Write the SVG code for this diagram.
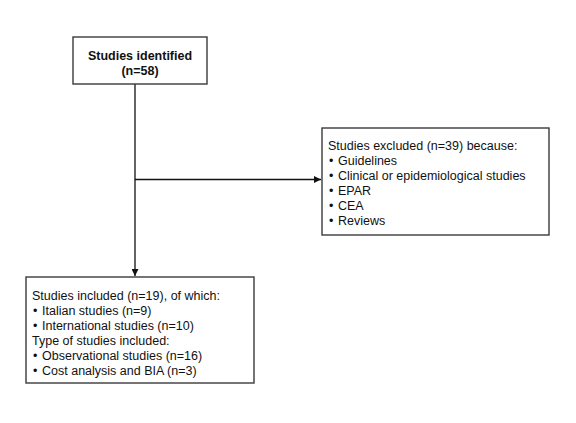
<svg xmlns="http://www.w3.org/2000/svg" width="576" height="423" viewBox="0 0 576 423">
<defs>
<style>
.box{fill:#fff;stroke:#3a3a3a;stroke-width:1.4}
.t{font-family:"Liberation Sans",Arial,sans-serif;font-size:12.5px;fill:#111}
.b{font-weight:bold;text-anchor:middle}
.ln{stroke:#111;stroke-width:1.3;fill:none}
</style>
<marker id="ah" viewBox="0 0 10 10" refX="10" refY="5" markerWidth="7" markerHeight="7" markerUnits="userSpaceOnUse" orient="auto">
<path d="M0,0 L10,5 L0,10 z" fill="#111"/>
</marker>
</defs>
<rect width="576" height="423" fill="#fff"/>
<g id="connectors">
<path class="ln" d="M135,84 V276" marker-end="url(#ah)"/>
<path class="ln" d="M135,179.5 H321" marker-end="url(#ah)"/>
</g>
<g id="identified">
<rect class="box" x="73" y="37" width="134" height="47"/>
<text class="t b" x="140" y="59.5">Studies identified</text>
<text class="t b" x="140" y="74.5">(n=58)</text>
</g>
<g id="excluded">
<rect class="box" x="322" y="128" width="227" height="107"/>
<text class="t" x="328" y="149.5">Studies excluded (n=39) because:</text>
<text class="t" y="164.5"><tspan x="329">•</tspan><tspan x="338">Guidelines</tspan></text>
<text class="t" y="179.5"><tspan x="329">•</tspan><tspan x="338">Clinical or epidemiological studies</tspan></text>
<text class="t" y="194.5"><tspan x="329">•</tspan><tspan x="338">EPAR</tspan></text>
<text class="t" y="209.5"><tspan x="329">•</tspan><tspan x="338">CEA</tspan></text>
<text class="t" y="224.5"><tspan x="329">•</tspan><tspan x="338">Reviews</tspan></text>
</g>
<g id="included">
<rect class="box" x="26" y="277" width="228" height="106"/>
<text class="t" x="32" y="299.5">Studies included (n=19), of which:</text>
<text class="t" y="314.5"><tspan x="33">•</tspan><tspan x="42">Italian studies (n=9)</tspan></text>
<text class="t" y="329.5"><tspan x="33">•</tspan><tspan x="42">International studies (n=10)</tspan></text>
<text class="t" x="32" y="344.5">Type of studies included:</text>
<text class="t" y="359.5"><tspan x="33">•</tspan><tspan x="42">Observational studies (n=16)</tspan></text>
<text class="t" y="374.5"><tspan x="33">•</tspan><tspan x="42">Cost analysis and BIA (n=3)</tspan></text>
</g>
</svg>
